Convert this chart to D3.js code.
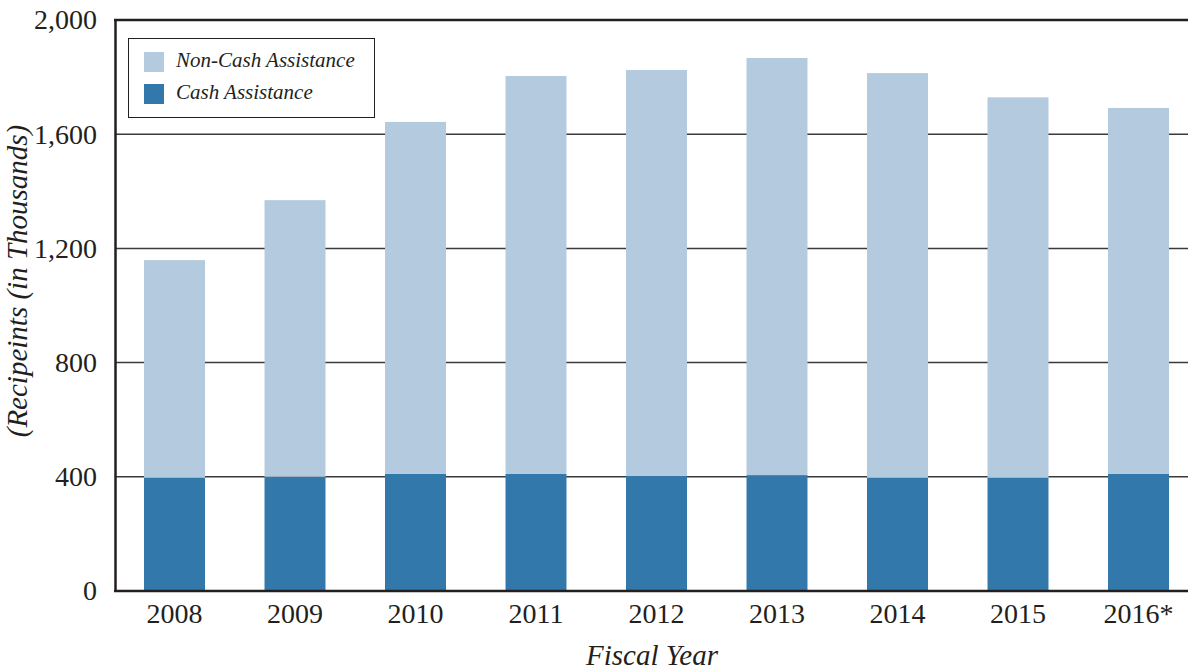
<!DOCTYPE html>
<html><head><meta charset="utf-8">
<script src="https://cdn.jsdelivr.net/npm/d3@7"></script>
<style>body{margin:0;background:#fff}svg{display:block}</style>
</head><body><svg id="c" width="1188" height="671"></svg>
<script>
const years = ["2008","2009","2010","2011","2012","2013","2014","2015","2016*"];
const cash = [397,400,410,410,403,406,397,397,410];
const nonCash = [762,969,1233,1394,1422,1461,1417,1332,1282];
const yTicks = [0,400,800,1200,1600,2000];
const seriesNames = ["Non-Cash Assistance","Cash Assistance"];
const colors = {"Non-Cash Assistance":"#b4cade","Cash Assistance":"#3378ab"};
const FONT = "'Liberation Serif'";

const svg = d3.select("#c");
const y = d3.scaleLinear().domain([0,2000]).range([591,20]);
const x = d3.scaleBand().domain(years).range([114.25,1198.75]).paddingInner(0.494).paddingOuter(0.247);

// gridlines
svg.append("g").selectAll("line").data(yTicks.filter(d=>d>0&&d<2000)).join("line")
  .attr("x1",115).attr("x2",1188).attr("y1",d=>y(d)).attr("y2",d=>y(d))
  .attr("stroke","#3a3a3a").attr("stroke-width",1.5);

const data = years.map((yr,i)=>({yr, cash:cash[i], non:nonCash[i]}));
const g = svg.append("g");
g.selectAll("rect.cash").data(data).join("rect").attr("class","cash")
  .attr("x",d=>x(d.yr)).attr("width",x.bandwidth())
  .attr("y",d=>y(d.cash)).attr("height",d=>y(0)-y(d.cash)).attr("fill",colors["Cash Assistance"]);
g.selectAll("rect.non").data(data).join("rect").attr("class","non")
  .attr("x",d=>x(d.yr)).attr("width",x.bandwidth())
  .attr("y",d=>y(d.cash+d.non)).attr("height",d=>y(d.cash)-y(d.cash+d.non)).attr("fill",colors["Non-Cash Assistance"]);

// top border
svg.append("line").attr("x1",114).attr("x2",1188).attr("y1",y(2000)).attr("y2",y(2000)).attr("stroke","#231f20").attr("stroke-width",2.5);

// y axis
const ya = svg.append("g").attr("transform","translate(115,0)")
  .call(d3.axisLeft(y).tickValues(yTicks).tickFormat(d3.format(",")).tickSize(0).tickPadding(18));
ya.select(".domain").attr("stroke","#231f20").attr("stroke-width",2.5);
ya.selectAll("text").style("font-family",FONT).style("font-size","28px").attr("fill","#231f20");

// x axis
const xa = svg.append("g").attr("transform","translate(0,591)")
  .call(d3.axisBottom(x).tickSize(0).tickPadding(12));
xa.select(".domain").attr("d","M114,0H1188").attr("stroke","#231f20").attr("stroke-width",2.5);
xa.selectAll("text").style("font-family",FONT).style("font-size","28px").attr("fill","#231f20");

// axis titles
svg.append("text").attr("x",652).attr("y",665).attr("text-anchor","middle").attr("fill","#231f20")
  .style("font-family",FONT).style("font-style","italic").style("font-size","29px").text("Fiscal Year");
svg.append("text").attr("transform","translate(27,281) rotate(-90)").attr("text-anchor","middle").attr("fill","#231f20")
  .style("font-family",FONT).style("font-style","italic").style("font-size","29px").text("(Recipeints (in Thousands)");

// legend
const lg = svg.append("g");
lg.append("rect").attr("x",128.5).attr("y",38.5).attr("width",246).attr("height",79)
  .attr("fill","#fff").attr("stroke","#231f20").attr("stroke-width",1);
seriesNames.forEach((s,i)=>{
  lg.append("rect").attr("x",144).attr("y",52+i*32).attr("width",20).attr("height",20).attr("fill",colors[s]);
  lg.append("text").attr("x",176).attr("y",67+i*32).attr("fill","#231f20")
    .style("font-family",FONT).style("font-style","italic").style("font-size","21px").text(s);
});
</script></body></html>
